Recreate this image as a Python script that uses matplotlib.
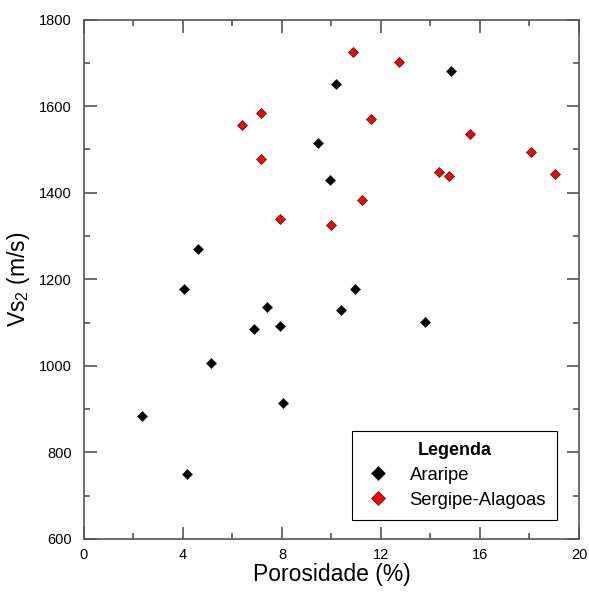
import numpy as np
import matplotlib
matplotlib.use('Agg')
import matplotlib.pyplot as plt
from matplotlib.ticker import MultipleLocator

plt.rcParams['font.family'] = ['Liberation Sans', 'DejaVu Sans']
plt.rcParams['mathtext.default'] = 'regular'

# Araripe
por_ara = [10.18, 9.44, 9.93, 4.61, 14.84, 4.03, 7.41, 6.86, 7.93, 10.38,
           5.14, 8.05, 2.34, 4.15, 10.94, 13.76]
vs_ara = [1652, 1514, 1429, 1271, 1680, 1177, 1135, 1084, 1093, 1129,
          1006, 914, 885, 750, 1177, 1102]

# Sergipe-Alagoas
por_sea = [7.15, 6.38, 7.15, 7.90, 9.97, 10.86, 12.74, 11.60, 15.61, 18.07,
           14.34, 14.73, 19.02, 11.25]
vs_sea = [1583, 1556, 1477, 1340, 1325, 1726, 1703, 1570, 1536, 1494,
          1448, 1438, 1442, 1383]

fig = plt.figure(figsize=(5.89, 5.93), dpi=100)
ax = fig.add_axes([0.1426, 0.0911, 0.8404, 0.8760])

kw = dict(linestyle='none', marker='D', markersize=5.4,
          markeredgecolor='#222222', markeredgewidth=0.5)
ax.plot(por_ara, vs_ara, color='black', label='Araripe', **kw)
ax.plot(por_sea, vs_sea, color='#ff0000', label='Sergipe-Alagoas', **kw)

ax.set_xlim(0, 20)
ax.set_ylim(600, 1800)
ax.xaxis.set_major_locator(MultipleLocator(4))
ax.xaxis.set_minor_locator(MultipleLocator(2))
ax.yaxis.set_major_locator(MultipleLocator(200))
ax.yaxis.set_minor_locator(MultipleLocator(100))

cinza = '#555555'
for s in ax.spines.values():
    s.set_color(cinza)
    s.set_linewidth(1.2)
ax.tick_params(which='both', direction='in', top=True, right=True,
               color=cinza, width=1.2, labelsize=10.5)
ax.tick_params(which='major', length=9)
ax.tick_params(which='minor', length=4.5)
ax.tick_params(axis='x', pad=6.5)
ax.tick_params(axis='y', pad=8.6)

ax.set_xlabel('Porosidade (%)', fontsize=16.5, labelpad=1)
ax.set_ylabel('Vs$_2$ (m/s)', fontsize=16.5, labelpad=5)

leg = ax.legend(loc='lower right', bbox_to_anchor=(0.956, 0.0366),
                borderaxespad=0, title='Legenda', fontsize=13.3,
                markerscale=1.35, fancybox=False, framealpha=1,
                edgecolor='black', borderpad=0.6, handlelength=1.6,
                handletextpad=0.9, labelspacing=0.44)
leg.get_frame().set_linewidth(0.8)
leg.get_title().set_fontweight('bold')
leg.get_title().set_fontsize(13)

fig.savefig('out.png', dpi=100)
